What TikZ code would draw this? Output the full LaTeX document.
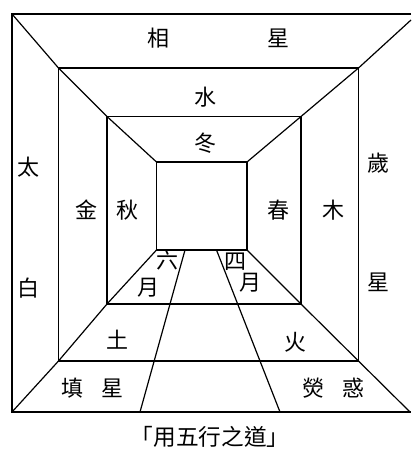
\documentclass[tikz,border=0pt]{standalone}
\usepackage{fontspec}
\newfontfamily\cjk{Noto Sans CJK TC}
\begin{document}
\begin{tikzpicture}[x=0.75pt,y=-0.75pt,line width=0.9pt,
  lbl/.style={font=\cjk\fontsize{16.5}{16.5}\selectfont,inner sep=0pt},
  ttl/.style={font=\cjk\fontsize{17}{17}\selectfont,inner sep=0pt}]
\useasboundingbox (0,0) rectangle (411,450);
% outer frame (cut off at the right)
\coordinate (oTL) at (12,14);
\coordinate (oBL) at (12,412);
\coordinate (oTR) at (411,14);
\coordinate (oBR) at (411,412);
\coordinate (dTR) at (411,20);
\coordinate (dBR) at (410,412);
% middle rectangle
\coordinate (mTL) at (58.5,68);
\coordinate (mTR) at (358.5,68);
\coordinate (mBL) at (58.5,361);
\coordinate (mBR) at (358.5,361);
% inner rectangle
\coordinate (iTL) at (107,116.5);
\coordinate (iTR) at (301,116.5);
\coordinate (iBL) at (107,304);
\coordinate (iBR) at (301,304);
% innermost rectangle
\coordinate (cTL) at (156.5,162);
\coordinate (cTR) at (247,162);
\coordinate (cBL) at (156.5,250);
\coordinate (cBR) at (247,250);
% road
\coordinate (rL1) at (185,250);
\coordinate (rL2) at (140,412);
\coordinate (rR1) at (216.5,250);
\coordinate (rR2) at (280,412);

\draw (oTR) -- (oTL) -- (oBL) -- (oBR);
\draw (mTL) rectangle (mBR);
\draw (iTL) rectangle (iBR);
\draw (cTL) rectangle (cBR);
\draw (oTL) -- (mTL) -- (iTL) -- (cTL);
\draw (dTR) -- (mTR) -- (iTR) -- (cTR);
\draw (oBL) -- (mBL) -- (iBL) -- (cBL);
\draw (dBR) -- (mBR) -- (iBR) -- (cBR);
\draw (rL1) -- (rL2);
\draw (rR1) -- (rR2);

\node[lbl] (t1) at (158,38) {相};
\node[lbl] (t2) at (278,38) {星};
\node[lbl] (t3) at (205,97) {水};
\node[lbl] (t4) at (205,143) {冬};
\node[lbl] (t5) at (28,167) {太};
\node[lbl] (t6) at (28,288) {白};
\node[lbl] (t7) at (378,163) {歲};
\node[lbl] (t8) at (378,282) {星};
\node[lbl] (t9) at (86,210) {金};
\node[lbl] (t10) at (127,210) {秋};
\node[lbl] (t11) at (278,210) {春};
\node[lbl] (t12) at (333,210) {木};
\node[lbl] (t13) at (167,260) {六};
\node[lbl] (t14) at (148,288) {月};
\node[lbl] (t15) at (235,262) {四};
\node[lbl] (t16) at (250,283) {月};
\node[lbl] (t17) at (117,340) {土};
\node[lbl] (t18) at (295,342) {火};
\node[lbl] (t19) at (72,388) {填};
\node[lbl] (t20) at (112,388) {星};
\node[lbl] (t21) at (313,388) {熒};
\node[lbl] (t22) at (353,388) {惑};
\node[ttl] (title) at (210,437) {「用五行之道」};
\end{tikzpicture}
\end{document}
